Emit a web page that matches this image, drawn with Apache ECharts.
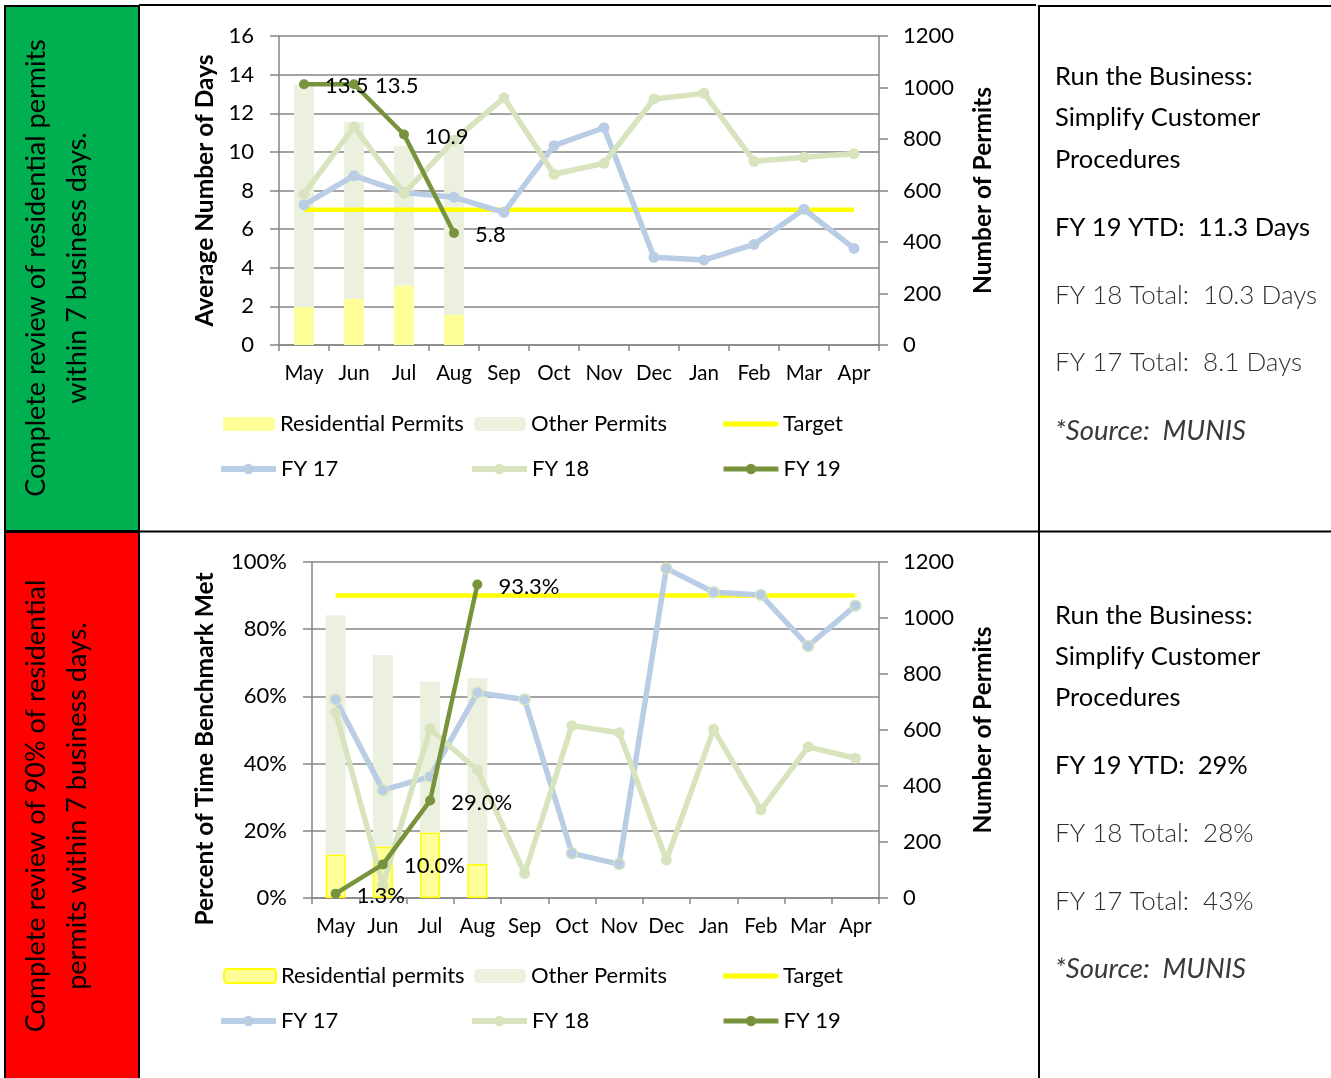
<!DOCTYPE html>
<html>
<head>
<meta charset="utf-8">
<script src="https://cdn.jsdelivr.net/npm/echarts@6/dist/echarts.min.js"></script>
<style>
html,body{margin:0;padding:0;background:#fff;}
#main{width:1331px;height:1078px;}
</style>
</head>
<body>
<div id="main"></div>
<script>
// ---------- DATA ----------
const months = ['May','Jun','Jul','Aug','Sep','Oct','Nov','Dec','Jan','Feb','Mar','Apr'];

// Chart 1: average number of days
const daysResidential = [148, 180, 231, 117];
const daysOther = [864, 686, 542, 664];
const daysTarget = [7, 7, 7, 7, 7, 7, 7, 7, 7, 7, 7, 7];
const daysFY17 = [7.25, 8.77, 7.89, 7.65, 6.87, 10.32, 11.25, 4.54, 4.40, 5.21, 7.03, 5.00];
const daysFY18 = [7.82, 11.30, 7.85, 10.60, 12.80, 8.84, 9.41, 12.74, 13.03, 9.51, 9.72, 9.90];
const daysFY19 = [13.5, 13.5, 10.9, 5.8];
const daysLeftTicks = {min: 0, max: 16, interval: 2};
const permitTicks = {min: 0, max: 1200, interval: 200};

// Chart 2: percent of time benchmark met
const pctResidential = [155, 183, 234, 121];
const pctOther = [855, 685, 539, 665];
const pctTarget = [90, 90, 90, 90, 90, 90, 90, 90, 90, 90, 90, 90];
const pctFY17 = [59.1, 32.1, 36.1, 61.1, 59.1, 13.3, 10.1, 98.1, 91.0, 90.2, 75.0, 87.0];
const pctFY18 = [55.2, 3.9, 50.3, 38.1, 7.3, 51.3, 49.2, 11.3, 50.2, 26.2, 45.0, 41.6];
const pctFY19 = [1.3, 10.0, 29.0, 93.3];
const pctLeftTicks = {min: 0, max: 100, interval: 20};

// Text panels
const row1Label = 'Complete review of residential permits\nwithin 7 business days.';
const row2Label = 'Complete review of 90% of residential\npermits within 7 business days.';
const row1Panel = ['Run the Business:', 'Simplify Customer', 'Procedures', 'FY 19 YTD:  11.3 Days', 'FY 18 Total:  10.3 Days', 'FY 17 Total:  8.1 Days', '*Source:  MUNIS'];
const row2Panel = ['Run the Business:', 'Simplify Customer', 'Procedures', 'FY 19 YTD:  29%', 'FY 18 Total:  28%', 'FY 17 Total:  43%', '*Source:  MUNIS'];

// ---------- STYLE ----------
const FONT = 'Lato';
const GRAY = '#868686';
const C_RES = '#ffff99', C_OTH = '#ebf1de', C_TGT = '#ffff00';
const C17 = '#b9cde5', C18 = '#d7e4bd', C19 = '#77933c';

function xAxisCfg(gi){
  return {
    type:'category', gridIndex:gi, data:months, boundaryGap:true,
    axisLine:{lineStyle:{color:GRAY, width:1.5}},
    axisTick:{show:true, interval:0, length:6, lineStyle:{color:GRAY, width:1.5}},
    axisLabel:{fontFamily:FONT, fontSize:20.5, color:'#000', margin:18, interval:0}
  };
}
function leftAxis(gi, t, name, gap, fmt, pad){
  return {
    type:'value', gridIndex:gi, position:'left', min:t.min, max:t.max, interval:t.interval,
    axisLine:{show:true, lineStyle:{color:GRAY, width:1.5}},
    axisTick:{show:true, length:9, lineStyle:{color:GRAY, width:1.5}},
    splitLine:{show:true, lineStyle:{color:GRAY, width:1.5}},
    axisLabel:{fontFamily:FONT, fontSize:22, color:'#000', margin:25, formatter:fmt||'{value}'},
    name:name, nameLocation:'middle', nameRotate:90, nameGap:gap,
    nameTextStyle:{fontFamily:FONT, fontSize:24.5, fontWeight:'bold', color:'#000', padding:pad||0}
  };
}
function rightAxis(gi, t, name, gap){
  return {
    type:'value', gridIndex:gi, position:'right', min:t.min, max:t.max, interval:t.interval,
    axisLine:{show:true, lineStyle:{color:GRAY, width:1.5}},
    axisTick:{show:true, length:9, lineStyle:{color:GRAY, width:1.5}},
    splitLine:{show:false},
    axisLabel:{fontFamily:FONT, fontSize:22, color:'#000', margin:24, formatter: v => String(v)},
    name:name, nameLocation:'middle', nameRotate:90, nameGap:gap,
    nameTextStyle:{fontFamily:FONT, fontSize:24.5, fontWeight:'bold', color:'#000'}
  };
}

function seriesFor(gi, res, oth, tgt, f17, f18, f19, resName, pct){
  const xi = gi, yl = gi*2, yr = gi*2+1;
  const fmt = pct ? (p => p.value.toFixed(1) + '%') : (p => p.value.toFixed(1));
  return [
    {name:resName, type:'bar', xAxisIndex:xi, yAxisIndex:yr, stack:'p'+gi, data:res, barWidth:20,
      itemStyle:{color:C_RES, borderColor: pct ? '#ffff00' : C_RES, borderWidth: pct ? 1.5 : 0}, z:1},
    {name:'Other Permits', type:'bar', xAxisIndex:xi, yAxisIndex:yr, stack:'p'+gi, data:oth, barWidth:20,
      itemStyle:{color:C_OTH}, z:1},
    {name:'Target', type:'line', xAxisIndex:xi, yAxisIndex:yl, data:tgt, symbol:'none',
      lineStyle:{color:C_TGT, width:4.5}, itemStyle:{color:C_TGT}, z:3},
    {name:'FY 17', type:'line', xAxisIndex:xi, yAxisIndex:yl, data:f17, symbol:'circle', symbolSize:11,
      lineStyle:{color:C17, width:5.5}, itemStyle:{color:C17, borderColor: pct ? C18 : C17, borderWidth: pct ? 1.5 : 0}, z:4},
    {name:'FY 18', type:'line', xAxisIndex:xi, yAxisIndex:yl, data:f18, symbol:'circle', symbolSize:11,
      lineStyle:{color:C18, width:5.5}, itemStyle:{color:C18}, z:5},
    {name:'FY 19', type:'line', xAxisIndex:xi, yAxisIndex:yl, data:f19, symbol:'circle', symbolSize:10,
      lineStyle:{color:C19, width:4.5}, itemStyle:{color:C19}, z:6,
      label:{show:true, position:'right', distance:16, offset:[0,2], fontFamily:FONT, fontSize:22, color:'#000', formatter:fmt}}
  ];
}

function legendItem(name, left, cy, w, h, lw, icon){
  const l = {
    data:[name], left:left, top:cy - 12, padding:0, itemWidth:w, itemHeight:h, itemGap:0,
    selectedMode:false,
    textStyle:{fontFamily:FONT, fontSize:22, lineHeight:24, color:'#000', padding:[0,0,0,0]}
  };
  if (lw) l.lineStyle = {width: lw};
  if (icon) l.icon = icon;
  return l;
}
function legendsFor(resName, y1, y2){
  return [
    legendItem(resName, 223, y1, 52, 14),
    legendItem('Other Permits', 474, y1, 52, 14),
    legendItem('Target', 723, y1, 55, 5, null, 'roundRect'),
    legendItem('FY 17', 218, y2, 55, 13, 6),
    legendItem('FY 18', 469, y2, 55, 13, 6),
    legendItem('FY 19', 721, y2, 55, 13, 5)
  ];
}

function panelTexts(lines, ys){
  return lines.map((t, i) => ({
    type:'text', x:1055, y:ys[i],
    style:{text:t, x:0, y:0, fontFamily:FONT,
      fontSize: i < 4 ? 25.5 : (i === 6 ? 27.5 : 26),
      fontWeight: i < 4 || i === 6 ? 'normal' : 300,
      fontStyle: i === 6 ? 'italic' : 'normal',
      fill: i < 4 ? '#000' : (i === 6 ? '#3a3a3a' : '#2e2e2e'), textAlign:'left', textVerticalAlign:'middle'}
  }));
}

const graphics = [
  {type:'rect', shape:{x:5, y:6, width:134, height:525}, style:{fill:'#00b050', stroke:'#000', lineWidth:2}},
  {type:'rect', shape:{x:5, y:532, width:134, height:550}, style:{fill:'#ff0000', stroke:'#000', lineWidth:2}},
  {type:'line', shape:{x1:139, y1:5, x2:1036, y2:5}, style:{stroke:'#000', lineWidth:2}},
  {type:'line', shape:{x1:1039, y1:6, x2:1331, y2:6}, style:{stroke:'#000', lineWidth:2}},
  {type:'line', shape:{x1:5, y1:531.5, x2:1331, y2:531.5}, style:{stroke:'#000', lineWidth:2}},
  {type:'line', shape:{x1:1039, y1:5, x2:1039, y2:1078}, style:{stroke:'#000', lineWidth:2}},
  {type:'text', x:57, y:268, rotation:Math.PI/2,
    style:{text:row1Label, x:0, y:0, fontFamily:FONT, fontSize:27, lineHeight:41, fill:'#000', textAlign:'center', textVerticalAlign:'middle'}},
  {type:'text', x:57, y:806, rotation:Math.PI/2,
    style:{text:row2Label, x:0, y:0, fontFamily:FONT, fontSize:27, lineHeight:41, fill:'#000', textAlign:'center', textVerticalAlign:'middle'}}
].concat(panelTexts(row1Panel, [77, 118, 160, 228, 296, 363, 431]))
 .concat(panelTexts(row2Panel, [616, 657, 698, 766, 834, 902, 969]));

const option = {
  animation:false,
  textStyle:{fontFamily:FONT},
  grid:[
    {left:279, top:36, width:600, height:309},
    {left:312, top:562, width:567, height:336}
  ],
  xAxis:[xAxisCfg(0), xAxisCfg(1)],
  yAxis:[
    leftAxis(0, daysLeftTicks, 'Average Number of Days', 61),
    rightAxis(0, permitTicks, 'Number of Permits', 92),
    leftAxis(1, pctLeftTicks, 'Percent of Time Benchmark Met', 94, '{value}%', [0,38,0,0]),
    rightAxis(1, permitTicks, 'Number of Permits', 92)
  ],
  legend: legendsFor('Residential Permits', 424, 469).concat(legendsFor('Residential permits', 976, 1021)),
  series: seriesFor(0, daysResidential, daysOther, daysTarget, daysFY17, daysFY18, daysFY19, 'Residential Permits', false)
    .concat(seriesFor(1, pctResidential, pctOther, pctTarget, pctFY17, pctFY18, pctFY19, 'Residential permits', true)),
  graphic: graphics
};

const chart = echarts.init(document.getElementById('main'));
chart.setOption(option);
</script>
</body>
</html>
